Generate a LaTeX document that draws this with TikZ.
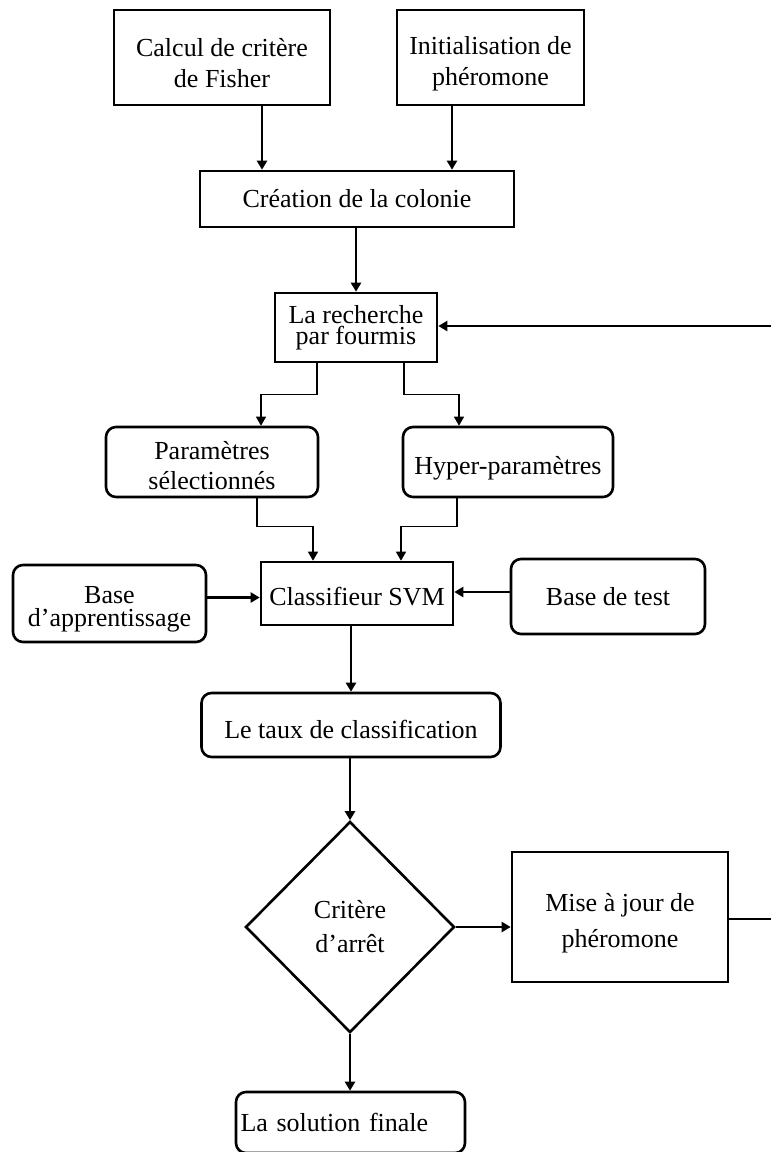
\documentclass[tikz,border=0pt]{standalone}
\usepackage{fontspec}
\setmainfont{Liberation Serif}
\usetikzlibrary{arrows.meta,shapes.geometric,calc}
\newcommand{\myfs}[2]{\fontsize{#1}{#2}\selectfont}
\newcommand{\txtdown}[1]{\rule{0pt}{#1}}
\tikzset{
  box/.style={draw, line width=1.3pt, rectangle, inner sep=0pt, align=center, font=\myfs{13}{15.5}},
  rbox/.style={box, rounded corners=5pt},
  arr/.style={line width=1.1pt, -{Triangle[length=4.5pt,width=5pt]}},
  thinarr/.style={line width=0.7pt, -{Triangle[length=4.5pt,width=5pt]}},
  plain/.style={line width=1.2pt},
}
\begin{document}
\begin{tikzpicture}[x=0.5pt,y=-0.5pt]
\path[use as bounding box, fill=white] (0,0) rectangle (771,1152);

% nodes
\node[box, minimum width=108pt, minimum height=47.5pt] (fisher) at (222,57.5) {\txtdown{15pt}Calcul de critère\\de Fisher};
\node[box, minimum width=93.5pt, minimum height=47.5pt] (init) at (490.5,57.5) {\txtdown{15pt}Initialisation de\\phéromone};
\node[box, minimum width=157pt, minimum height=28pt] (creation) at (357,199) {Création de la colonie};
\node[box, minimum width=81pt, minimum height=34.5pt, font=\myfs{13}{10.5}] (recherche) at (356,327.5) {La recherche\\par fourmis};
\node[rbox, minimum width=106pt, minimum height=35pt, font=\myfs{13}{15}] (param) at (212,462) {\txtdown{13pt}Paramètres\\sélectionnés};
\node[rbox, minimum width=105pt, minimum height=35pt] (hyper) at (508,462) {\txtdown{15pt}Hyper-paramètres};
\node[box, minimum width=96pt, minimum height=31.5pt] (svm) at (357,593.5) {\txtdown{12pt}Classifieur SVM};
\node[rbox, minimum width=96.5pt, minimum height=38.5pt, font=\myfs{13}{11.5}] (bapp) at (109.5,603.5) {\txtdown{14pt}Base\\d’apprentissage};
\node[rbox, minimum width=97pt, minimum height=37.5pt] (btest) at (608,596.5) {Base de test};
\node[rbox, minimum width=149.5pt, minimum height=32pt] (taux) at (351,725) {\txtdown{14pt}Le taux de classification};
\node[draw, line width=1.3pt, diamond, aspect=1, inner sep=0pt, minimum width=104.5pt, minimum height=105.5pt, align=center, font=\myfs{13}{17}] (crit) at (350,927) {Critère\\d’arrêt};
\node[box, minimum width=108pt, minimum height=65pt, font=\myfs{13}{18}] (mise) at (620,917) {\txtdown{15pt}Mise à jour de\\phéromone};
\node[rbox, minimum width=114.5pt, minimum height=30.5pt, text width=110pt, inner xsep=2.25pt, align=left] (solution) at (350.5,1122.5) {La solution finale};

% helper coordinates
\coordinate (a1) at ([xshift=-47.5pt]creation.north);
\coordinate (a2) at ([xshift=47.5pt]creation.north);
\coordinate (fbR) at (772,326);
\coordinate (fbM) at (772,919);
\coordinate (r1) at ([xshift=-19.5pt]recherche.south);
\coordinate (r2) at ([xshift=24pt]recherche.south);
\coordinate (p1) at ([xshift=24.5pt]param.north);
\coordinate (h1) at ([xshift=-24.5pt]hyper.north);
\coordinate (p2) at ([xshift=22.5pt]param.south);
\coordinate (h2) at ([xshift=-25.5pt]hyper.south);
\coordinate (s1) at ([xshift=-22pt]svm.north);
\coordinate (s2) at ([xshift=22pt]svm.north);

% connectors
\draw[arr] (a1 |- fisher.south) -- (a1);
\draw[arr] (a2 |- init.south) -- (a2);
\draw[arr] (recherche.north |- creation.south) -- (recherche.north);
\draw[arr, line width=1.3pt] (fbR) -- (fbR -| recherche.east);
\draw[thinarr] (r1) |- ($(r1)!0.5!(p1)$) -| (p1);
\draw[thinarr] (r2) |- ($(r2)!0.5!(h1)$) -| (h1);
\draw[thinarr] (p2) |- ($(p2)!0.45!(s1)$) -| (s1);
\draw[thinarr] (h2) |- ($(h2)!0.45!(s2)$) -| (s2);
\draw[arr] ([yshift=3pt]bapp.east) -- ([yshift=3pt]bapp.east -| svm.west);
\draw[arr] ([yshift=2.25pt]btest.west) -- ([yshift=2.25pt]btest.west -| svm.east);
\draw[arr] (taux.north |- svm.south) -- (taux.north);
\draw[arr] (crit.north |- taux.south) -- (crit.north);
\draw[arr] (crit.east) -- (crit.east -| mise.west);
\draw[plain] ([yshift=-1pt]mise.east) -- ([yshift=-1pt]mise.east -| fbM);
\draw[arr] (crit.south) -- (crit.south |- solution.north);
\end{tikzpicture}
\end{document}
